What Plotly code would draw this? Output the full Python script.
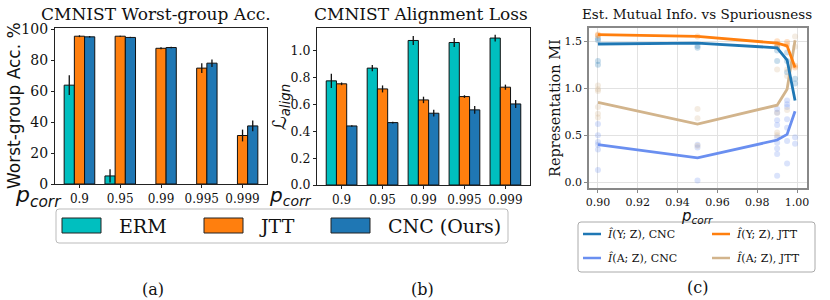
import plotly.graph_objects as go

W, H = 830, 300

# ---------------- data ----------------
categories = ["0.9", "0.95", "0.99", "0.995", "0.999"]

wg_erm = [63.8, 5.2, 0, 0, 0]
wg_erm_err = [6.4, 4.3, 0, 0, 0]
wg_jtt = [95.4, 95.4, 87.6, 74.8, 31.3]
wg_jtt_err = [0.6, 0.3, 0.6, 3.2, 3.8]
wg_cnc = [95.0, 94.6, 88.1, 78.0, 37.5]
wg_cnc_err = [0.5, 0.4, 0.5, 2.4, 3.5]

al_erm = [0.776, 0.871, 1.077, 1.062, 1.095]
al_erm_err = [0.053, 0.024, 0.034, 0.034, 0.025]
al_jtt = [0.754, 0.716, 0.634, 0.659, 0.729]
al_jtt_err = [0.010, 0.026, 0.024, 0.010, 0.019]
al_cnc = [0.440, 0.465, 0.535, 0.560, 0.604]
al_cnc_err = [0.005, 0.006, 0.025, 0.029, 0.030]

p_corr = [0.9, 0.95, 0.99, 0.995, 0.999]
mi_yz_cnc = [1.47, 1.48, 1.43, 1.30, 0.87]
mi_yz_jtt = [1.57, 1.55, 1.48, 1.45, 1.22]
mi_az_cnc = [0.40, 0.26, 0.45, 0.51, 0.755]
mi_az_jtt = [0.85, 0.62, 0.82, 0.99, 1.51]

# individual runs (faded points)
pts_yz_cnc_x = [0.9, 0.9, 0.9, 0.9, 0.95, 0.95, 0.99, 0.99, 0.99, 0.995, 0.995, 0.995, 0.999, 0.999]
pts_yz_cnc_y = [1.53, 1.51, 1.29, 1.25, 1.45, 1.43, 1.44, 1.40, 1.29, 1.38, 1.29, 1.17, 1.10, 1.05]
pts_az_cnc_x = [0.9, 0.9, 0.9, 0.9, 0.9, 0.9, 0.95, 0.95, 0.95,
                0.99, 0.99, 0.99, 0.99, 0.99, 0.99, 0.99, 0.99, 0.99,
                0.995, 0.995, 0.995, 0.995, 0.995, 0.995, 0.995, 0.999, 0.999]
pts_az_cnc_y = [0.62, 0.50, 0.43, 0.40, 0.35, 0.13, 0.40, 0.37, 0.02,
                0.78, 0.74, 0.66, 0.61, 0.48, 0.42, 0.36, 0.30, 0.07,
                0.87, 0.83, 0.80, 0.67, 0.58, 0.44, 0.20, 0.48, 0.41]
pts_yz_jtt_x = [0.9, 0.9, 0.95, 0.99, 0.99, 0.99, 0.995, 0.995, 0.999, 0.999]
pts_yz_jtt_y = [1.57, 1.56, 1.55, 1.50, 1.47, 1.44, 1.49, 1.46, 1.24, 1.22]
pts_az_jtt_x = [0.9, 0.9, 0.9, 0.9, 0.9, 0.9, 0.95, 0.95, 0.95,
                0.99, 0.99, 0.99, 0.99, 0.995, 0.995, 0.995, 0.999, 0.999]
pts_az_jtt_y = [1.03, 0.99, 0.97, 0.80, 0.73, 0.69, 0.78, 0.68, 0.39,
                1.20, 0.74, 0.53, 0.50, 1.20, 1.13, 0.77, 1.55, 1.44]

# ---------------- style ----------------
C_ERM = "#00bfbf"
C_JTT = "#ff7f0e"
C_CNC = "#1f77b4"
C_AZ_CNC = "#6a8ff0"
C_AZ_JTT = "#d2b48c"
SERIF = "DejaVu Serif"
SANS = "DejaVu Sans"


def px(x):
    return x / W


def py(y):
    return 1 - y / H


fig = go.Figure()


def add_bars(vals, errs, color, xa, ya):
    widths = [1 if v > 0 else 0 for v in vals]
    fig.add_trace(go.Bar(
        x=categories, y=vals, marker=dict(color=color, line=dict(color="#111", width=widths)),
        error_y=dict(type="data", array=errs, color="#111", thickness=1.3, width=0),
        xaxis=xa, yaxis=ya, showlegend=False))


add_bars(wg_erm, wg_erm_err, C_ERM, "x", "y")
add_bars(wg_jtt, wg_jtt_err, C_JTT, "x", "y")
add_bars(wg_cnc, wg_cnc_err, C_CNC, "x", "y")
add_bars(al_erm, al_erm_err, C_ERM, "x2", "y2")
add_bars(al_jtt, al_jtt_err, C_JTT, "x2", "y2")
add_bars(al_cnc, al_cnc_err, C_CNC, "x2", "y2")

for xs, ys, c in [(pts_yz_cnc_x, pts_yz_cnc_y, C_CNC), (pts_az_cnc_x, pts_az_cnc_y, C_AZ_CNC),
                  (pts_yz_jtt_x, pts_yz_jtt_y, C_JTT), (pts_az_jtt_x, pts_az_jtt_y, C_AZ_JTT)]:
    fig.add_trace(go.Scatter(x=xs, y=ys, mode="markers", marker=dict(color=c, size=6, opacity=0.25),
                             xaxis="x3", yaxis="y3", showlegend=False, hoverinfo="skip"))

for ys, c in [(mi_az_jtt, C_AZ_JTT), (mi_az_cnc, C_AZ_CNC), (mi_yz_cnc, C_CNC), (mi_yz_jtt, C_JTT)]:
    fig.add_trace(go.Scatter(x=p_corr, y=ys, mode="lines", line=dict(color=c, width=2.8),
                             xaxis="x3", yaxis="y3", showlegend=False))

bar_ax = dict(showline=True, linecolor="#222", linewidth=1.2, mirror=True, ticks="outside",
              ticklen=3, tickcolor="#222", showgrid=False, zeroline=False, automargin=False)

fig.update_layout(
    width=W, height=H, autosize=False, margin=dict(l=0, r=0, t=0, b=0),
    paper_bgcolor="white", plot_bgcolor="white",
    barmode="group", bargap=0.25, bargroupgap=0,
    font=dict(family=SERIF, color="#111"),
    xaxis=dict(bar_ax, domain=[px(55), px(267)], anchor="y", type="category", range=[-0.6, 4.6],
               tickfont=dict(size=12, family=SERIF)),
    yaxis=dict(bar_ax, domain=[py(184), py(28)], anchor="x", range=[0, 100.7],
               tickvals=[0, 20, 40, 60, 80, 100], tickfont=dict(size=14, family=SERIF)),
    xaxis2=dict(bar_ax, domain=[px(317), px(530)], anchor="y2", type="category", range=[-0.6, 4.6],
                tickfont=dict(size=12, family=SERIF)),
    yaxis2=dict(bar_ax, domain=[py(185), py(28)], anchor="x2", range=[0, 1.17],
                tickvals=[0, 0.2, 0.4, 0.6, 0.8, 1.0], tickformat=".1f",
                tickfont=dict(size=12.5, family=SERIF)),
    xaxis3=dict(domain=[px(589), px(807)], anchor="y3", range=[0.8955, 1.005],
                tickvals=[0.90, 0.92, 0.94, 0.96, 0.98, 1.00], tickformat=".2f",
                showline=True, linecolor="#888", linewidth=1.5, mirror=True, ticks="outside",
                ticklen=3, tickcolor="#888", showgrid=True, gridcolor="#e2e2e2", gridwidth=1,
                zeroline=False, tickfont=dict(size=11, family=SERIF), automargin=False),
    yaxis3=dict(domain=[py(188), py(28)], anchor="x3", range=[-0.06, 1.64],
                tickvals=[0, 0.5, 1.0, 1.5], tickformat=".1f",
                showline=True, linecolor="#888", linewidth=1.5, mirror=True, ticks="outside",
                ticklen=3, tickcolor="#888", showgrid=True, gridcolor="#e2e2e2", gridwidth=1,
                zeroline=False, tickfont=dict(size=11, family=SERIF), automargin=False),
)

ann = []


def text(x, y, s, size, family=SERIF, xanchor="center", angle=0, color="#111"):
    ann.append(dict(x=px(x), y=py(y), xref="paper", yref="paper", text=s, showarrow=False,
                    xanchor=xanchor, yanchor="middle", textangle=angle,
                    font=dict(size=size, family=family, color=color)))


text(156, 14, "CMNIST Worst-group Acc.", 17)
text(421, 14, "CMNIST Alignment Loss", 17)
text(697, 14, "Est. Mutual Info. vs Spuriousness", 13.5)
text(14, 106, "Worst-group Acc. %", 17, family=SANS, angle=-90)
text(280, 107, "ℒ<sub><i>align</i></sub>", 19, family=SANS, angle=-90)
text(555, 108, "Representation MI", 14.5, angle=-90)
text(38, 196, "<i>p</i><sub><i>corr</i></sub>", 22, family=SANS)
text(290, 196, "<i>p</i><sub><i>corr</i></sub>", 20, family=SANS)
text(697, 216, "<i>p</i><sub><i>corr</i></sub>", 15, family=SANS)
text(153, 289, "(a)", 16)
text(423, 289, "(b)", 16)
text(697, 287, "(c)", 16)

shapes = []


def rounded_box(x0, y0, x1, y1, r, color):
    def P(x, y):
        return f"{px(x):.5f},{py(y):.5f}"
    path = (f"M {P(x0 + r, y0)} L {P(x1 - r, y0)} Q {P(x1, y0)} {P(x1, y0 + r)} "
            f"L {P(x1, y1 - r)} Q {P(x1, y1)} {P(x1 - r, y1)} L {P(x0 + r, y1)} "
            f"Q {P(x0, y1)} {P(x0, y1 - r)} L {P(x0, y0 + r)} Q {P(x0, y0)} {P(x0 + r, y0)} Z")
    shapes.append(dict(type="path", path=path, xref="paper", yref="paper",
                       line=dict(color=color, width=1), fillcolor="rgba(255,255,255,0.9)"))


# legend for (a)/(b)
rounded_box(56, 209, 508, 243, 3, "#bbbbbb")
legend_ab = [("ERM", C_ERM, 62, 117), ("JTT", C_JTT, 204, 257), ("CNC (Ours)", C_CNC, 331, 386)]
for name, c, sx, tx in legend_ab:
    shapes.append(dict(type="rect", xref="paper", yref="paper", x0=px(sx), x1=px(sx + 39),
                       y0=py(233), y1=py(218), fillcolor=c, line=dict(color="#222", width=1)))
    text(tx, 226, name, 19, xanchor="left")

# legend for (c)
rounded_box(578, 222, 815, 272, 3, "#aaaaaa")
legend_c = [("<i>Î</i>(Y; Z), CNC", C_CNC, 583, 234), ("<i>Î</i>(Y; Z), JTT", C_JTT, 712, 234),
            ("<i>Î</i>(A; Z), CNC", C_AZ_CNC, 583, 258), ("<i>Î</i>(A; Z), JTT", C_AZ_JTT, 712, 258)]
for name, c, lx, ly in legend_c:
    shapes.append(dict(type="line", xref="paper", yref="paper", x0=px(lx), x1=px(lx + 18),
                       y0=py(ly), y1=py(ly), line=dict(color=c, width=2.5)))
    text(lx + 22, ly, name, 11, xanchor="left")

fig.update_layout(annotations=ann, shapes=shapes)
fig.write_html("out.html", config={"displayModeBar": False},
               post_script="document.body.style.margin='0';document.body.style.overflow='hidden';")
